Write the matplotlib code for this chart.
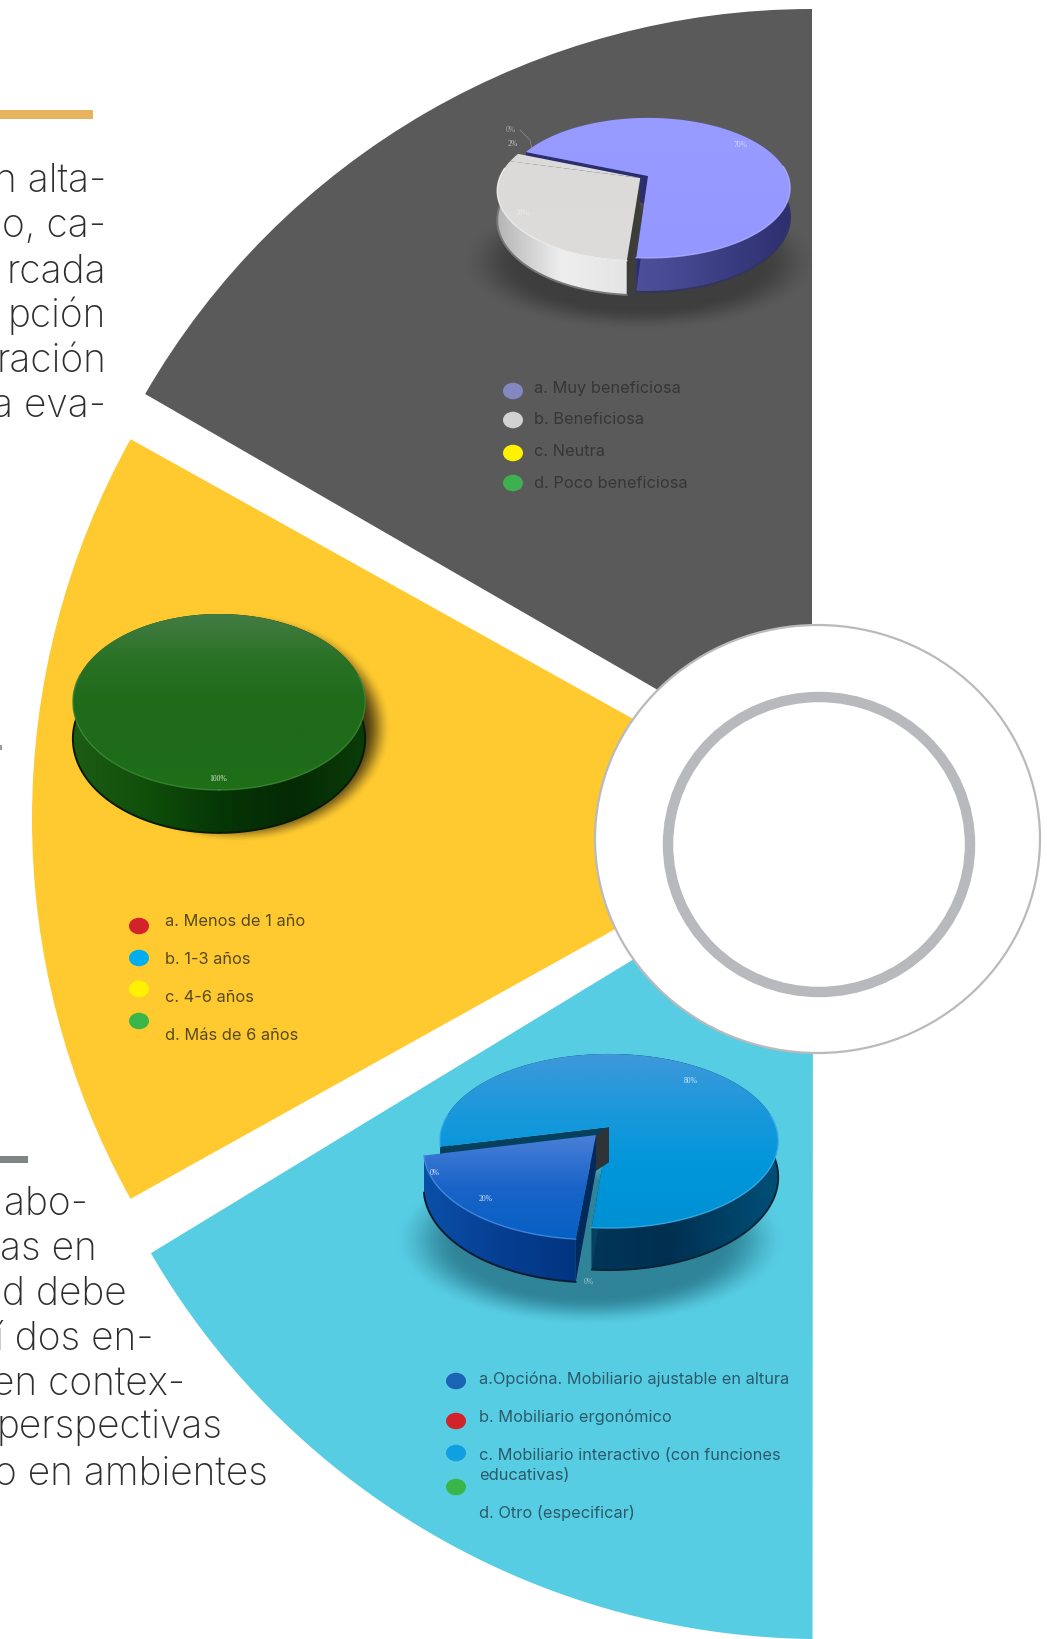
import numpy as np
import matplotlib
matplotlib.use("Agg")
import matplotlib.pyplot as plt
from matplotlib.patches import Wedge, Ellipse, Polygon, Rectangle
from matplotlib.colors import to_rgb, LinearSegmentedColormap

# data
benef_labels = ["a. Muy beneficiosa", "b. Beneficiosa", "c. Neutra", "d. Poco beneficiosa"]
benef_values = [70, 28, 2, 0]
years_labels = ["a. Menos de 1 año", "b. 1-3 años", "c. 4-6 años", "d. Más de 6 años"]
years_values = [0, 0, 0, 100]
furn_labels = ["a.Opcióna. Mobiliario ajustable en altura", "b. Mobiliario ergonómico",
               "c. Mobiliario interactivo (con funciones", "educativas)", "d. Otro (especificar)"]
furn_values = [20, 0, 80, 0]
top_text = ["n alta-", "o, ca-", "rcada", "pción", "ración", "a eva-"]
bottom_text = ["abo-", "as en", "d debe", "í dos en-", "en contex-", "perspectivas", "o en ambientes"]

W, H = 1047, 1639
FONT = "Inter"
plt.rcParams["font.family"] = [FONT, "DejaVu Sans"]

fig = plt.figure(figsize=(W / 100, H / 100), dpi=100, facecolor="white")
ax = fig.add_axes([0, 0, 1, 1])
ax.set_xlim(0, W)
ax.set_ylim(H, 0)
ax.axis("off")
ax.autoscale(False)


def grad_fill(pts, stops, vertical=True):
    # gradient clipped to a polygon
    pts = np.array(pts)
    x0, x1 = pts[:, 0].min(), pts[:, 0].max()
    y0, y1 = pts[:, 1].min(), pts[:, 1].max()
    cm = LinearSegmentedColormap.from_list("g", stops)
    g = np.linspace(0, 1, 256)
    arr = g[:, None] if vertical else g[None, :]
    im = ax.imshow(arr, cmap=cm, vmin=0, vmax=1, extent=(x0, x1, y1, y0), aspect="auto",
                   zorder=2, interpolation="bilinear")
    im.set_clip_path(Polygon(pts, transform=ax.transData))


def soft_shadow(cx, cy, rx, ry, color, alpha, soft):
    x = np.linspace(cx - rx * 1.4, cx + rx * 1.4, 300)
    y = np.linspace(cy - ry * 1.5, cy + ry * 1.5, 300)
    xx, yy = np.meshgrid(x, y)
    r = np.sqrt(((xx - cx) / rx) ** 2 + ((yy - cy) / ry) ** 2)
    t = np.clip((1 + soft - r) / (2 * soft), 0, 1)
    a = t * t * (3 - 2 * t) * alpha
    img = np.zeros(xx.shape + (4,))
    img[..., :3] = to_rgb(color)
    img[..., 3] = a
    ax.imshow(img, extent=(x[0], x[-1], y[-1], y[0]), aspect="auto", zorder=2)


def pie3d(values, start, cx, cy, rx, ry, k, depth, styles, offsets):
    def proj(u, v, z=0.0):
        w = 1 - k * v
        return cx + rx * u / w, cy + ry * v / w + depth * (1 - k) * z / w

    total = float(sum(values))
    a0 = start
    slices = []
    for i, val in enumerate(values):
        sw = 360.0 * val / total
        if sw > 0:
            slices.append((i, a0, a0 + sw))
        a0 += sw
    n = len(slices)
    order = sorted(range(n), key=lambda j: np.hypot(*offsets[slices[j][0]]))
    for j in order:
        i, a, b = slices[j]
        st = styles[i]
        ox, oy = offsets[i]
        if "core" in st:
            # dark core seen where the slice has been pulled out
            core = [proj(0, 0), proj(0, 0, 1), proj(ox, oy, 1), proj(ox, oy)]
            ax.add_patch(Polygon(core, facecolor=st["core"], edgecolor="none", zorder=2))
        th = np.radians(np.linspace(a, b, max(int(b - a) * 2, 3)))
        us, vs = ox + np.cos(th), oy + np.sin(th)
        top_arc = [proj(u, v) for u, v in zip(us, vs)]
        bot_arc = [proj(u, v, 1) for u, v in zip(us, vs)]
        # slices lying wholly at the back have no visible side
        if np.sin(th).max() > -0.2:
            grad_fill(top_arc + bot_arc[::-1], st["side"], vertical=False)
            ax.plot(*zip(*bot_arc), color=st["edge"], lw=1.4, zorder=2, solid_capstyle="round")
        full = b - a >= 359.9
        if not full:
            prev_i = slices[(j - 1) % n][0]
            next_i = slices[(j + 1) % n][0]
            # a wall shows only if it faces the viewer and no slice sits against it
            walls = [(a, a - 90, offsets[prev_i]), (b, b + 90, offsets[next_i])]
            for ang, normal, other in walls:
                if other == offsets[i] or np.sin(np.radians(normal)) < -0.1:
                    continue
                c, s = np.cos(np.radians(ang)), np.sin(np.radians(ang))
                wall = [proj(ox, oy), proj(ox + c, oy + s), proj(ox + c, oy + s, 1), proj(ox, oy, 1)]
                ax.add_patch(Polygon(wall, facecolor=st["wall"], edgecolor="none", zorder=2))
            face = [proj(ox, oy)] + top_arc
        else:
            face = top_arc
        grad_fill(face, st["top"], vertical=True)
        # light rim along the front of the top face
        rim = np.array(top_arc)
        rim[np.sin(th) < -0.15] = np.nan
        ax.plot(rim[:, 0], rim[:, 1], color=st["rim"], lw=1.0, alpha=0.8, zorder=2)


def legend(x_marker, y_markers, colors, x_text, y_texts, labels, color, size):
    for y, c in zip(y_markers, colors):
        ax.add_patch(Ellipse((x_marker, y), 20, 16.5, facecolor=c, edgecolor="none", zorder=3))
    for y, s in zip(y_texts, labels):
        ax.text(x_text, y + 1, s, color=color, fontsize=size, va="center", ha="left", zorder=3)


# big sectors
ax.add_patch(Wedge((812, 779), 770, 210, 270, facecolor="#5a5a5a", edgecolor="none", zorder=1))
ax.add_patch(Wedge((813, 819), 781, 150.9, 209.1, facecolor="#ffca30", edgecolor="none", zorder=1))
arc = np.radians(np.linspace(149.8, 90.7, 200))
blue_sector = np.column_stack([822 + 776.5 * np.cos(arc), 862.6 + 776.5 * np.sin(arc)])
blue_sector = np.vstack([blue_sector, [[813, 850]]])
ax.add_patch(Polygon(blue_sector, facecolor="#57cde3", edgecolor="none", zorder=1))

# centre rings
ax.add_patch(Ellipse((817.5, 839), 445, 428, facecolor="white", edgecolor="#b8babd", lw=1.6, zorder=1.5))
ax.add_patch(Ellipse((819, 844.5), 302, 295, facecolor="none", edgecolor="#b7b9bd", lw=7.5, zorder=1.5))

# accent bars and paragraph text, cut by the page edge as in the source
ax.add_patch(Rectangle((0, 110), 93, 9, facecolor="#e8b35f", edgecolor="none"))
ax.add_patch(Rectangle((0, 1156), 28, 7, facecolor="#808484", edgecolor="none"))
ax.add_patch(Rectangle((0, 745), 1.5, 5, facecolor="#9a9a9a", edgecolor="none"))
top_y = [192, 237, 283, 327, 372, 417]
for y, s in zip(top_y, top_text):
    ax.text(106, y, s, color="#2e2e2e", fontsize=28, ha="right", va="baseline", fontweight="light")
bottom_y = [1215, 1260, 1305, 1350, 1395, 1438, 1485]
bottom_x = [88, 97, 127, 154, 185, 223, 268]
for x, y, s in zip(bottom_x, bottom_y, bottom_text):
    ax.text(x, y, s, color="#2e2e2e", fontsize=28, ha="right", va="baseline", fontweight="light")

# pie 1, gray sector
soft_shadow(640, 262, 150, 58, "#1c1c1c", 0.45, 0.2)
lilac = dict(top=["#989bff", "#9497ff"], side=["#5a5ca8", "#4a4c96", "#2d2f70"], wall="#2b2d6e",
             edge="#33355f", rim="#b0b2ff")
white = dict(top=["#dcdad9", "#dedcda"], side=["#b5b5b5", "#eeeeee", "#e4e4e4"], wall="#3d3d38",
             edge="#777777", rim="#f4f4f4")
pie3d(benef_values, -158, 648, 176, 140, 68, 0.17, 34, [lilac, white, white, white],
      [(0, 0), (-0.055, 0.03), (-0.055, 0.03), (-0.055, 0.03)])
ax.plot([520, 530, 532], [130, 140, 150], color="#9a9a9a", lw=0.4, zorder=3)
small = dict(fontsize=5.5, ha="center", va="center", zorder=3, family="Liberation Serif")
ax.text(741, 145, f"{benef_values[0]}%", color="#d8d8ff", **small)
ax.text(523, 213, f"{benef_values[1]}%", color="#ecebea", **small)
ax.text(513, 144, f"{benef_values[2]}%", color="#c4c4c4", **small)
ax.text(511, 130, f"{benef_values[3]}%", color="#a8a8a8", **small)
legend(513, [391, 420, 453, 483], ["#8389c0", "#d2d2d2", "#fff200", "#3fb04f"],
       534, [387, 418, 451, 482], benef_labels, "#363636", 11.8)

# pie 2, yellow sector
soft_shadow(238, 728, 140, 105, "#2a200c", 0.85, 0.1)
green = dict(top=["#437c44", "#2a7226", "#1f6b1a", "#1f6b1a", "#1e6f18"],
             side=["#1c5c14", "#0f4f0a", "#063606", "#042a04", "#0a3c08"],
             wall="#0a3c08", edge="#081a08", rim="#3f8a38")
pie3d(years_values, 90, 219, 687, 144, 85.4, 0.17, 43, [green] * 4, [(0, 0)] * 4)
ax.text(218, 779, f"{years_values[3]}%", color="#d4e4d0", **small)
legend(139, [926, 958, 989, 1021], ["#d2232a", "#00aeef", "#fff200", "#39b54a"],
       165, [920, 958, 996, 1035], years_labels, "#57491f", 11.8)

# pie 3, blue sector
soft_shadow(590, 1240, 165, 72, "#10485c", 0.55, 0.2)
navy = dict(top=["#4a80d8", "#1a64c8", "#0660c4"], side=["#0a50a8", "#063f92", "#023580"], wall="#012a5c",
            edge="#0d1c30", rim="#4a90e0", core="#2e3338")
sky = dict(top=["#3f98da", "#1a98dc", "#0096da", "#0090d4"], side=["#00547f", "#003a5e", "#002f50", "#005078"],
           wall="#05405f", edge="#0c2436", rim="#40b0e8")
pie3d(furn_values, 95, 609, 1127, 167, 84.8, 0.161, 42, [navy, navy, sky, sky],
      [(-0.077, 0.094), (-0.077, 0.094), (0, 0), (0, 0)])
ax.text(691, 1081, f"{furn_values[2]}%", color="#cfe6f5", **small)
ax.text(486, 1199, f"{furn_values[0]}%", color="#d8e4f4", **small)
ax.text(435, 1173, f"{furn_values[1]}%", color="#d8e4f4", **small)
ax.text(589, 1282, f"{furn_values[3]}%", color="#a8bcc8", **small)
legend(456, [1381, 1421, 1453, 1487], ["#1b63b4", "#d2232a", "#109fe0", "#39b54a"],
       479, [1378, 1416, 1454, 1474, 1512], furn_labels, "#2c5a6a", 11.8)

fig.savefig("out.png", dpi=100, facecolor="white")
